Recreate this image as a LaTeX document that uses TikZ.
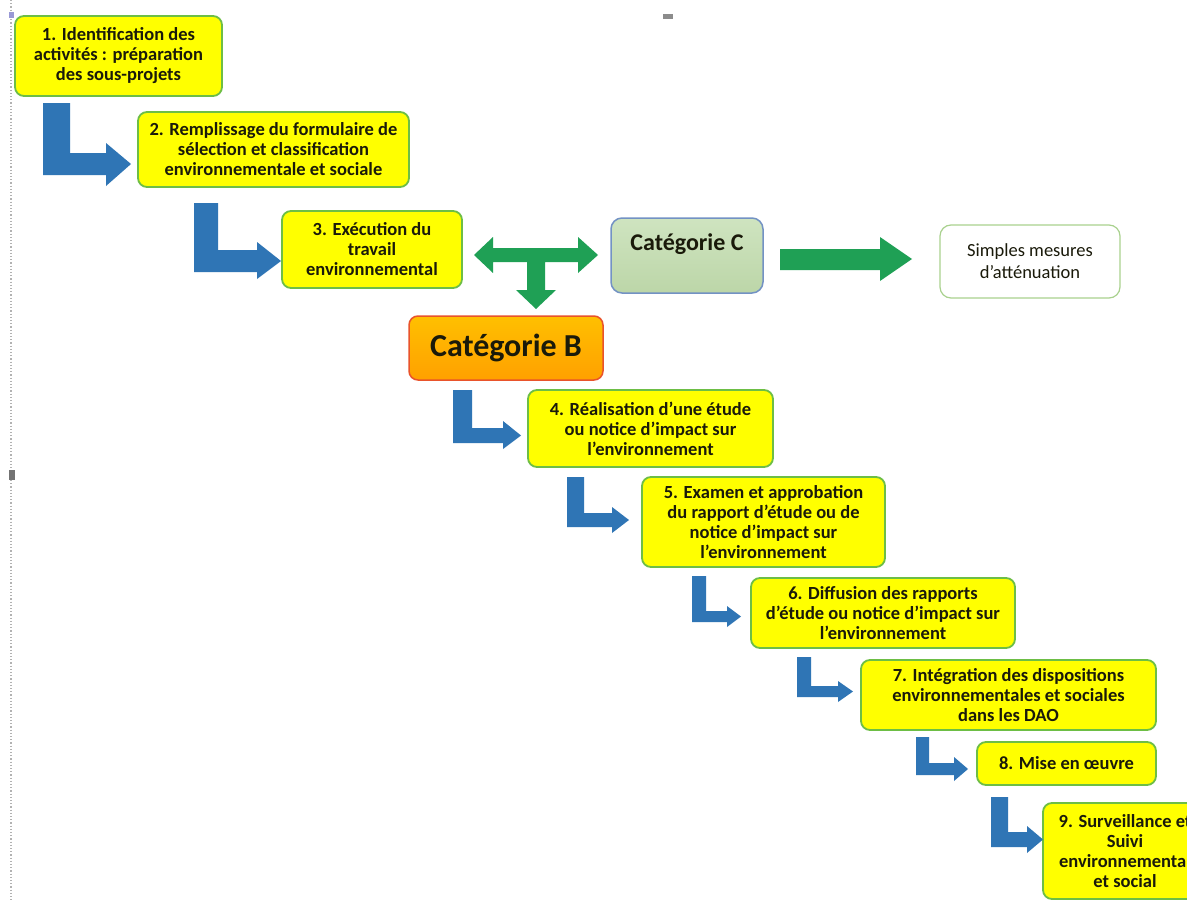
\documentclass[tikz,border=0pt]{standalone}
\usepackage{fontspec}
\setmainfont{Carlito}
\definecolor{ygreen}{HTML}{6DBE45}
\definecolor{yfill}{HTML}{FFFF00}
\definecolor{barrow}{HTML}{2F75B5}
\definecolor{garrow}{HTML}{1FA055}
\definecolor{bfillt}{HTML}{FFC000}
\definecolor{bfillb}{HTML}{FFA000}
\definecolor{bborder}{HTML}{E9532B}
\definecolor{cfillt}{HTML}{CFE4C0}
\definecolor{cfillb}{HTML}{BCD6A8}
\definecolor{cborder}{HTML}{7392C4}
\definecolor{sborder}{HTML}{A9D18E}
\definecolor{txt}{HTML}{1A1A0A}
\newcommand\LArr[9]{%
  \fill[barrow] (#1,#3) -- (#2,#3) -- (#2,#4) -- (#6,#4) -- (#6,#8)
   -- (#7,{(#4+#5)/2}) -- (#6,#9) -- (#6,#5) -- (#1,#5) -- cycle;}
\begin{document}
\begin{tikzpicture}[x=1pt,y=-1pt,
  ybox/.style={draw=ygreen, line width=1.8pt, fill=yfill, rounded corners=9pt,
    align=center, text=txt, font=\bfseries\fontsize{18.5}{20}\selectfont, inner sep=2pt},
  catb/.style={draw=bborder, line width=1.5pt, top color=bfillt, bottom color=bfillb,
    rounded corners=9pt, text=txt, font=\bfseries\fontsize{32}{36}\selectfont},
  catc/.style={draw=cborder, line width=1.5pt, top color=cfillt, bottom color=cfillb,
    rounded corners=11pt},
  sbox/.style={draw=sborder, line width=1.2pt, fill=white, rounded corners=11pt,
    align=center, text=txt, font=\fontsize{18.5}{22}\selectfont},
  handle/.style={fill=black!55}]
\clip (0,0) rectangle (1187,902);
\fill[white] (0,0) rectangle (1187,902);
% selection frame remnants
\draw[black!30, dotted, line width=1.2pt] (11,0) -- (11,902);
\fill[handle] (9,470) rectangle (15,480);
\fill[black!45] (663,14) rectangle (673,19);
\fill[black!40!blue!40] (9,12) rectangle (14,18);

% boxes
\node[ybox, minimum width=207, minimum height=80] (b1) at (118.5,56)
  {1. Identification des\\activités : préparation\\des sous-projets};
\node[ybox, minimum width=271, minimum height=75] (b2) at (273.5,149.5)
  {2. Remplissage du formulaire de\\sélection et classification\\environnementale et sociale};
\node[ybox, minimum width=180, minimum height=77] (b3) at (372,249.5)
  {3. Exécution du\\travail\\environnemental};
\node[catb, minimum width=194, minimum height=64] (cb) at (506,348) {Catégorie B};
\node[catc, minimum width=152, minimum height=75] (cc) at (687,255.5) {};
\node[text=txt, font=\bfseries\fontsize{24}{28}\selectfont] (cct) at (687,244) {Catégorie C};
\node[sbox, minimum width=180, minimum height=73] (sm) at (1030,261.5)
  {Simples mesures\\d’atténuation};
\node[ybox, minimum width=245, minimum height=77] (b4) at (650.5,428.5)
  {4. Réalisation d’une étude\\ou notice d’impact sur\\l’environnement};
\node[ybox, minimum width=243, minimum height=90] (b5) at (763.5,522)
  {5. Examen et approbation\\du rapport d’étude ou de\\notice d’impact sur\\l’environnement};
\node[ybox, minimum width=264, minimum height=70] (b6) at (883,613)
  {6. Diffusion des rapports\\d’étude ou notice d’impact sur\\l’environnement};
\node[ybox, minimum width=295, minimum height=70] (b7) at (1008.5,695)
  {7. Intégration des dispositions\\environnementales et sociales\\dans les DAO};
\node[ybox, minimum width=179, minimum height=43] (b8) at (1066.5,763.5)
  {8. Mise en œuvre};
\node[ybox, minimum width=164, minimum height=96] (b9) at (1125,851)
  {9. Surveillance et\\Suivi\\environnemental\\et social};

% blue L-shaped arrows
\LArr{43}{70}{103}{153}{175}{106}{131}{143}{186}
\LArr{194}{218}{203}{250}{272}{257}{281}{242}{279}
\LArr{453}{472}{390}{428}{443}{503}{521}{421}{449}
\LArr{567}{584}{477}{513}{527}{612}{629}{507}{533}
\LArr{692}{706}{576}{611}{622}{727}{741}{606}{627}
\LArr{797}{811}{657}{686}{697}{838}{853}{681}{702}
\LArr{916}{929}{737}{763}{775}{954}{968}{757}{781}
\LArr{991}{1008}{797}{832}{847}{1027}{1043}{826}{853}

% green T arrow
\fill[garrow] (474,255) -- (493,237) -- (493,248) -- (578,248) -- (578,237)
  -- (598,255) -- (578,273) -- (578,262) -- (545,262) -- (545,290) -- (556,290)
  -- (536,309) -- (516,290) -- (527,290) -- (527,262) -- (493,262) -- (493,273) -- cycle;
% green right arrow
\fill[garrow] (780,249) -- (880,249) -- (880,237) -- (912,259) -- (880,281)
  -- (880,270) -- (780,270) -- cycle;
\end{tikzpicture}
\end{document}
